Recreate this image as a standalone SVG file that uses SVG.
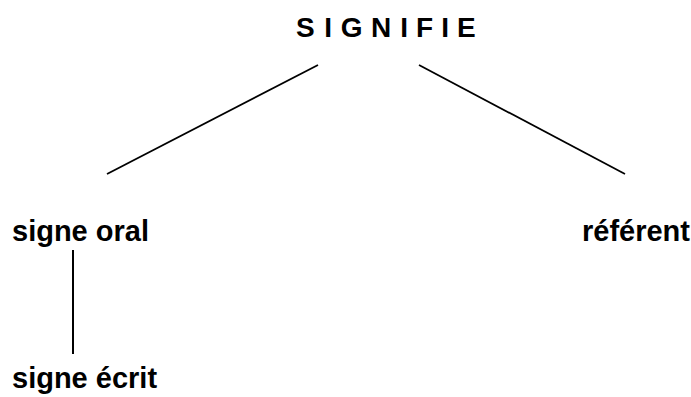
<svg xmlns="http://www.w3.org/2000/svg" width="691" height="397" viewBox="0 0 691 397">
<style>
text{font-family:"Liberation Sans",Arial,sans-serif;font-weight:bold;fill:#000}
.t{font-size:29px}
.h{font-size:28px}
line{stroke:#000;stroke-width:1.8}
</style>
<rect width="691" height="397" fill="#fff"/>
<g id="signifie"><text class="h" y="36.5"><tspan x="296">S</tspan><tspan x="324.2">I</tspan><tspan x="340.8">G</tspan><tspan x="371">N</tspan><tspan x="400.2">I</tspan><tspan x="415.9">F</tspan><tspan x="441.2">I</tspan><tspan x="457">E</tspan></text></g>
<g id="signe-oral"><text class="t" x="12" y="241">signe oral</text></g>
<g id="referent"><text class="t" x="582" y="241">référent</text></g>
<g id="signe-ecrit"><text class="t" x="12" y="388">signe écrit</text></g>
<g id="connectors">
<line x1="318" y1="65" x2="107" y2="174"/>
<line x1="419" y1="65" x2="625" y2="174"/>
<line x1="73" y1="250" x2="73" y2="354" style="stroke-width:2"/>
</g>
</svg>
